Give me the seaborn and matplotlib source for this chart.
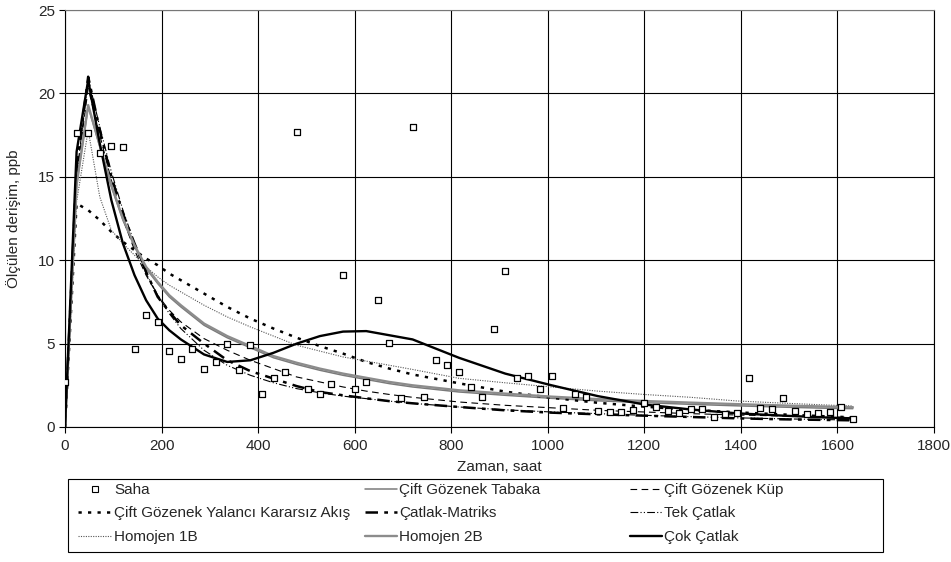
import matplotlib
matplotlib.use('Agg')
import matplotlib.pyplot as plt
import seaborn as sns
from matplotlib.lines import Line2D
from matplotlib.patches import Rectangle

# Saha (field) measurements, one every 24 h
saha_x = [0, 24, 48, 72, 96, 120, 144, 168, 192, 216, 240, 264, 288, 312, 336, 360,
          384, 408, 432, 456, 480, 504, 528, 552, 576, 600, 624, 648, 672, 696, 720,
          744, 768, 792, 816, 840, 864, 888, 912, 936, 960, 984, 1008, 1032, 1056, 1080,
          1104, 1128, 1152, 1176, 1200, 1224, 1248, 1272, 1296, 1320, 1344, 1368, 1392,
          1416, 1440, 1464, 1488, 1512, 1536, 1560, 1584, 1608, 1632]
saha_y = [2.7, 17.6, 17.65, 16.45, 16.85, 16.8, 4.7, 6.7, 6.3, 4.57, 4.1, 4.7, 3.5, 3.9,
          4.95, 3.4, 4.9, 2.0, 2.95, 3.3, 17.7, 2.3, 2.0, 2.55, 9.1, 2.28, 2.68, 7.63,
          5.06, 1.72, 18.0, 1.82, 4.04, 3.72, 3.3, 2.38, 1.8, 5.86, 9.35, 2.96, 3.06,
          2.28, 3.06, 1.12, 2.0, 1.78, 0.96, 0.9, 0.9, 1.04, 1.46, 1.2, 0.95, 0.86, 1.1,
          1.06, 0.6, 0.76, 0.86, 2.96, 1.14, 1.06, 1.76, 0.98, 0.76, 0.86, 0.92, 1.18, 0.5]

# model curves, all on the same time grid
t = [0, 24, 48, 72, 96, 120, 144, 168, 192, 216, 240, 288, 336, 384, 432, 480, 528,
     576, 624, 672, 720, 816, 912, 1008, 1104, 1200, 1296, 1392, 1488, 1584, 1632]

tabaka = [0, 14.5, 19.2, 16.8, 14.4, 12.4, 10.8, 9.5, 8.6, 7.8, 7.2, 6.1, 5.35, 4.75,
          4.15, 3.75, 3.4, 3.1, 2.85, 2.6, 2.4, 2.1, 1.9, 1.72, 1.57, 1.46, 1.36, 1.27,
          1.19, 1.12, 1.1]
kup = [0, 15.0, 20.3, 17.5, 14.8, 12.5, 10.6, 9.1, 7.9, 7.0, 6.3, 5.3, 4.6, 4.0, 3.5,
       3.0, 2.7, 2.4, 2.15, 1.95, 1.78, 1.5, 1.3, 1.15, 1.0, 0.9, 0.8, 0.72, 0.66, 0.6,
       0.58]
yalanci = [0, 13.4, 13.0, 12.4, 11.7, 11.1, 10.6, 10.1, 9.7, 9.2, 8.8, 8.0, 7.2, 6.5,
           5.9, 5.35, 4.85, 4.4, 3.9, 3.5, 3.15, 2.62, 2.12, 1.75, 1.45, 1.22, 1.03,
           0.88, 0.75, 0.63, 0.58]
matriks = [0, 15.5, 21.0, 17.8, 15.0, 12.8, 11.0, 9.3, 7.8, 6.9, 6.1, 5.0, 4.0, 3.35,
           2.9, 2.45, 2.1, 1.9, 1.72, 1.55, 1.42, 1.2, 1.0, 0.86, 0.76, 0.68, 0.6, 0.52,
           0.46, 0.42, 0.4]
tek = [0, 15.0, 20.9, 18.0, 15.3, 13.0, 11.0, 9.2, 7.9, 6.8, 5.9, 4.6, 3.7, 3.1, 2.65,
       2.3, 2.05, 1.85, 1.7, 1.55, 1.42, 1.2, 1.03, 0.9, 0.8, 0.7, 0.62, 0.55, 0.49,
       0.44, 0.42]
homojen1 = [0, 13.5, 17.8, 13.8, 11.8, 11.0, 10.3, 9.6, 9.0, 8.5, 8.1, 7.3, 6.6, 6.0,
            5.45, 4.9, 4.55, 4.2, 3.95, 3.7, 3.45, 2.92, 2.65, 2.4, 2.15, 1.95, 1.78,
            1.56, 1.43, 1.31, 1.26]
homojen2 = [0, 14.5, 19.3, 16.9, 14.5, 12.5, 10.9, 9.6, 8.7, 7.9, 7.3, 6.2, 5.45, 4.85,
            4.25, 3.85, 3.5, 3.2, 2.95, 2.7, 2.5, 2.2, 2.0, 1.82, 1.67, 1.56, 1.46, 1.37,
            1.29, 1.22, 1.19]
cok = [0, 16.5, 20.8, 17.0, 13.6, 11.0, 9.1, 7.6, 6.5, 5.8, 5.25, 4.35, 3.9, 4.0, 4.45,
       5.0, 5.45, 5.72, 5.75, 5.5, 5.25, 4.15, 3.2, 2.5, 1.85, 1.35, 1.05, 0.82, 0.68,
       0.56, 0.52]

sns.set_theme(style='white')
plt.rcParams['font.family'] = ['Liberation Sans', 'DejaVu Sans']
FS = 11

W, H = 951, 562
fig = plt.figure(figsize=(W / 100, H / 100), dpi=100)
ax = fig.add_axes([65 / W, 1 - 427 / H, 869 / W, 417 / H])

# series: label, values, color, linewidth, linestyle
series = [
    ('Çift Gözenek Tabaka', tabaka, '#7a7a7a', 1.1, '-'),
    ('Çift Gözenek Küp', kup, 'black', 0.8, (0, (6, 4))),
    ('Çift Gözenek Yalancı Kararsız Akış', yalanci, 'black', 1.8, (0, (1.3, 2.5))),
    ('Çatlak-Matriks', matriks, 'black', 1.8, (0, (5, 2.5, 1.5, 2.5))),
    ('Tek Çatlak', tek, 'black', 0.8, (0, (7, 2, 1, 2, 1, 2))),
    ('Homojen 1B', homojen1, '#555555', 0.8, (0, (1, 1.2))),
    ('Homojen 2B', homojen2, '#8c8c8c', 1.7, '-'),
    ('Çok Çatlak', cok, 'black', 1.7, '-'),
]

handles = {}
for label, vals, col, lw, ls in series:
    sns.lineplot(x=t, y=vals, ax=ax, color=col, linewidth=lw, linestyle=ls,
                 sort=False, legend=False)
    handles[label] = Line2D([], [], color=col, linewidth=lw, linestyle=ls)

sns.scatterplot(x=saha_x, y=saha_y, ax=ax, marker='s', s=22, facecolor='white',
                edgecolor='black', linewidth=0.9, zorder=5, legend=False)
handles['Saha'] = Line2D([], [], marker='s', markersize=4, markerfacecolor='white',
                         markeredgecolor='black', markeredgewidth=0.8, linestyle='none')

ax.set_xlim(0, 1800)
ax.set_ylim(0, 25)
ax.set_xticks(range(0, 1801, 200))
ax.set_yticks(range(0, 26, 5))
ax.grid(True, color='black', linewidth=0.8)
for s in ax.spines.values():
    s.set_color('black')
    s.set_linewidth(0.8)
ax.spines['top'].set_color('#777777')
ax.tick_params(axis='both', direction='out', length=4, width=0.8, color='black',
               labelsize=FS, bottom=True, left=True)
ax.tick_params(axis='x', pad=5)
ax.tick_params(axis='y', pad=3)

ax.set_xlabel('Zaman, saat', fontsize=FS)
ax.set_ylabel('Ölçülen derişim, ppb', fontsize=FS)
ax.xaxis.set_label_coords(0.5, -(460 - 427) / 417)
ax.yaxis.set_label_coords((21 - 65) / 869, 0.5)

# legend: three columns placed like the reference, one box around them
fig.patches.append(Rectangle((68 / W, 1 - 552 / H), (883 - 68) / W, (552 - 479) / H,
                             transform=fig.transFigure, fill=False,
                             edgecolor='black', linewidth=0.8))
columns = [
    (78, ['Saha', 'Çift Gözenek Yalancı Kararsız Akış', 'Homojen 1B'], 2.2),
    (365, ['Çift Gözenek Tabaka', 'Çatlak-Matriks', 'Homojen 2B'], 2.1),
    (630, ['Çift Gözenek Küp', 'Tek Çatlak', 'Çok Çatlak'], 2.1),
]
for x0, labels, hl in columns:
    fig.legend([handles[k] for k in labels], labels, loc='upper left',
               bbox_to_anchor=(x0 / W, 1 - 483 / H), frameon=False,
               handlelength=hl, handletextpad=0.15, labelspacing=0.62,
               borderpad=0, borderaxespad=0, fontsize=FS)

fig.savefig('out.png', dpi=100, facecolor='white')
